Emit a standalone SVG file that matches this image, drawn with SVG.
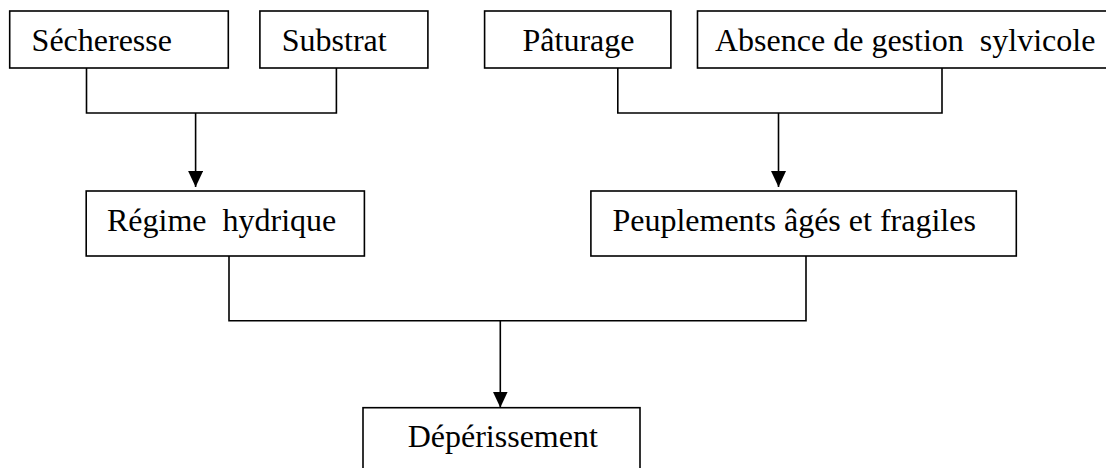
<svg xmlns="http://www.w3.org/2000/svg" width="1106" height="468" viewBox="0 0 1106 468">
  <style>
    .box { fill: #ffffff; stroke: #000000; stroke-width: 1.6; }
    .lbl { font-family: "Liberation Serif", "Times New Roman", serif; font-size: 32px; fill: #000000; white-space: pre; }
    .con { fill: none; stroke: #000000; stroke-width: 1.6; }
  </style>
  <defs>
    <marker id="arr" markerUnits="userSpaceOnUse" markerWidth="16" markerHeight="15" refX="16" refY="7.5" orient="auto" viewBox="0 0 16 15">
      <path d="M0,0 L16,7.5 L0,15 Z" fill="#000000"/>
    </marker>
  </defs>
  <rect width="1106" height="468" fill="#ffffff"/>

  <g id="connectors">
    <path class="con" d="M86.5,68 V113 H336.4 V68"/>
    <line class="con" x1="195.6" y1="113" x2="195.6" y2="187" marker-end="url(#arr)"/>
    <path class="con" d="M617.8,68 V113 H942 V68"/>
    <line class="con" x1="778.5" y1="113" x2="778.5" y2="187" marker-end="url(#arr)"/>
    <path class="con" d="M229,256 V320.7 H806 V256"/>
    <line class="con" x1="500.3" y1="320.7" x2="500.3" y2="407.5" marker-end="url(#arr)"/>
  </g>

  <g id="secheresse">
    <rect class="box" x="9.7" y="11" width="218.6" height="57"/>
    <text class="lbl" x="31.6" y="51">Sécheresse</text>
  </g>
  <g id="substrat">
    <rect class="box" x="259.9" y="11" width="168" height="57"/>
    <text class="lbl" x="281.8" y="51">Substrat</text>
  </g>
  <g id="paturage">
    <rect class="box" x="484.6" y="11" width="186.3" height="57"/>
    <text class="lbl" x="522.5" y="51">Pâturage</text>
  </g>
  <g id="absence-gestion">
    <rect class="box" x="697.5" y="11" width="420" height="57"/>
    <text class="lbl" x="715" y="51" xml:space="preserve">Absence de gestion  sylvicole</text>
  </g>
  <g id="regime-hydrique">
    <rect class="box" x="86.2" y="191" width="278.2" height="65"/>
    <text class="lbl" x="107" y="231" xml:space="preserve">Régime  hydrique</text>
  </g>
  <g id="peuplements">
    <rect class="box" x="590.9" y="191" width="425.4" height="65"/>
    <text class="lbl" x="612.4" y="231">Peuplements âgés et fragiles</text>
  </g>
  <g id="deperissement">
    <rect class="box" x="363" y="407.7" width="277" height="80"/>
    <text class="lbl" x="407.7" y="446.7">Dépérissement</text>
  </g>
</svg>
